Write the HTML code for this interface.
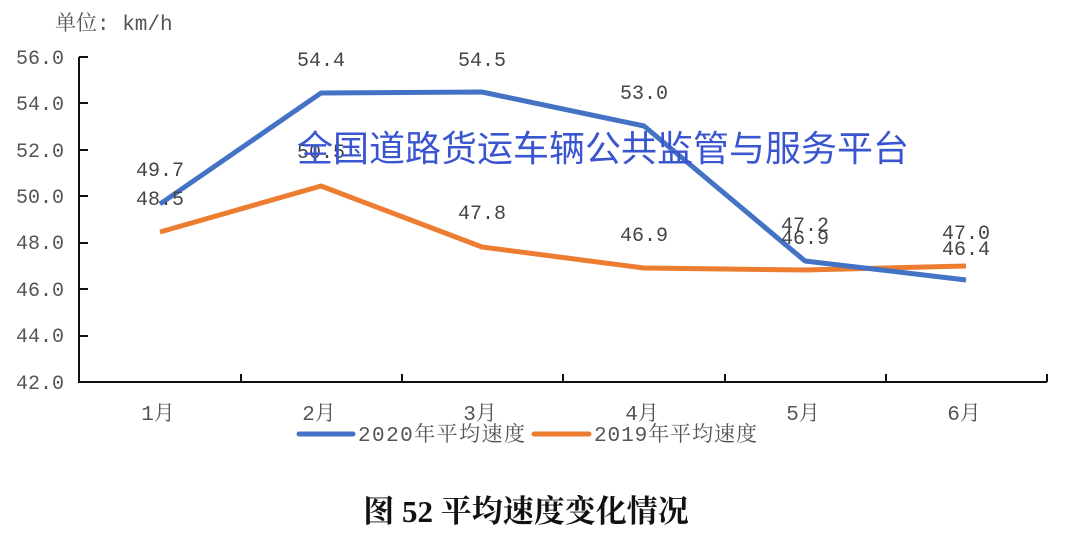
<!DOCTYPE html>
<html><head><meta charset="utf-8"><style>
body{margin:0;background:#fff}
svg text{font-family:"Liberation Mono","Noto Serif CJK SC",monospace}
</style></head><body>
<svg width="1080" height="540" viewBox="0 0 1080 540" xmlns="http://www.w3.org/2000/svg">
<rect width="1080" height="540" fill="#fff"/>
<text x="55" y="30" font-size="21" fill="#555">单位: km/h</text>
<g font-size="20" fill="#555" text-anchor="end">
<text x="64" y="64">56.0</text><text x="64" y="110">54.0</text><text x="64" y="157">52.0</text><text x="64" y="203">50.0</text><text x="64" y="249">48.0</text><text x="64" y="296">46.0</text><text x="64" y="342">44.0</text><text x="64" y="389">42.0</text>
</g>
<g stroke="#111" stroke-width="2" fill="none">
<path d="M79 57V382H1047"/>
<path d="M79 57h9M79 103h9M79 150h9M79 196h9M79 243h9M79 289h9M79 336h9"/>
<path d="M241 382v-8M402 382v-8M563 382v-8M725 382v-8M886 382v-8M1047 382v-8"/>
</g>
<g font-size="21" fill="#555" text-anchor="middle">
<text x="158" y="420">1月</text><text x="319" y="420">2月</text><text x="480" y="420">3月</text><text x="642" y="420">4月</text><text x="803" y="420">5月</text><text x="964" y="420">6月</text>
</g>
<polyline points="160,232 321,186 482,247 644,268 805,270 966,266" fill="none" stroke="#ed7d31" stroke-width="5" stroke-linejoin="round"/>
<polyline points="160,204 321,93 482,92 644,126 805,261 966,280" fill="none" stroke="#4472c4" stroke-width="5" stroke-linejoin="round"/>
<g font-size="20" fill="#444" text-anchor="middle">
<text x="160" y="176">49.7</text><text x="160" y="205">48.5</text>
<text x="321" y="66">54.4</text><text x="321" y="158">50.5</text>
<text x="482" y="66">54.5</text><text x="482" y="219">47.8</text>
<text x="644" y="99">53.0</text><text x="644" y="241">46.9</text>
<text x="805" y="231">47.2</text><text x="805" y="244">46.9</text>
<text x="966" y="239">47.0</text><text x="966" y="255">46.4</text>
</g>
<text x="603" y="161" font-size="36" fill="#3a55d0" text-anchor="middle" style="font-family:'Noto Sans CJK SC',sans-serif">全国道路货运车辆公共监管与服务平台</text>
<line x1="299" y1="434" x2="353" y2="434" stroke="#4472c4" stroke-width="5" stroke-linecap="round"/>
<text x="358" y="441" font-size="21" fill="#555" textLength="167" lengthAdjust="spacing">2020年平均速度</text>
<line x1="534" y1="434" x2="589" y2="434" stroke="#ed7d31" stroke-width="5" stroke-linecap="round"/>
<text x="594" y="441" font-size="21" fill="#555" textLength="163" lengthAdjust="spacing">2019年平均速度</text>
<text x="526" y="522" font-size="31" font-weight="bold" fill="#111" text-anchor="middle" style="font-family:'Liberation Serif','Noto Serif CJK SC',serif">图 52 平均速度变化情况</text>
</svg>
</body></html>
